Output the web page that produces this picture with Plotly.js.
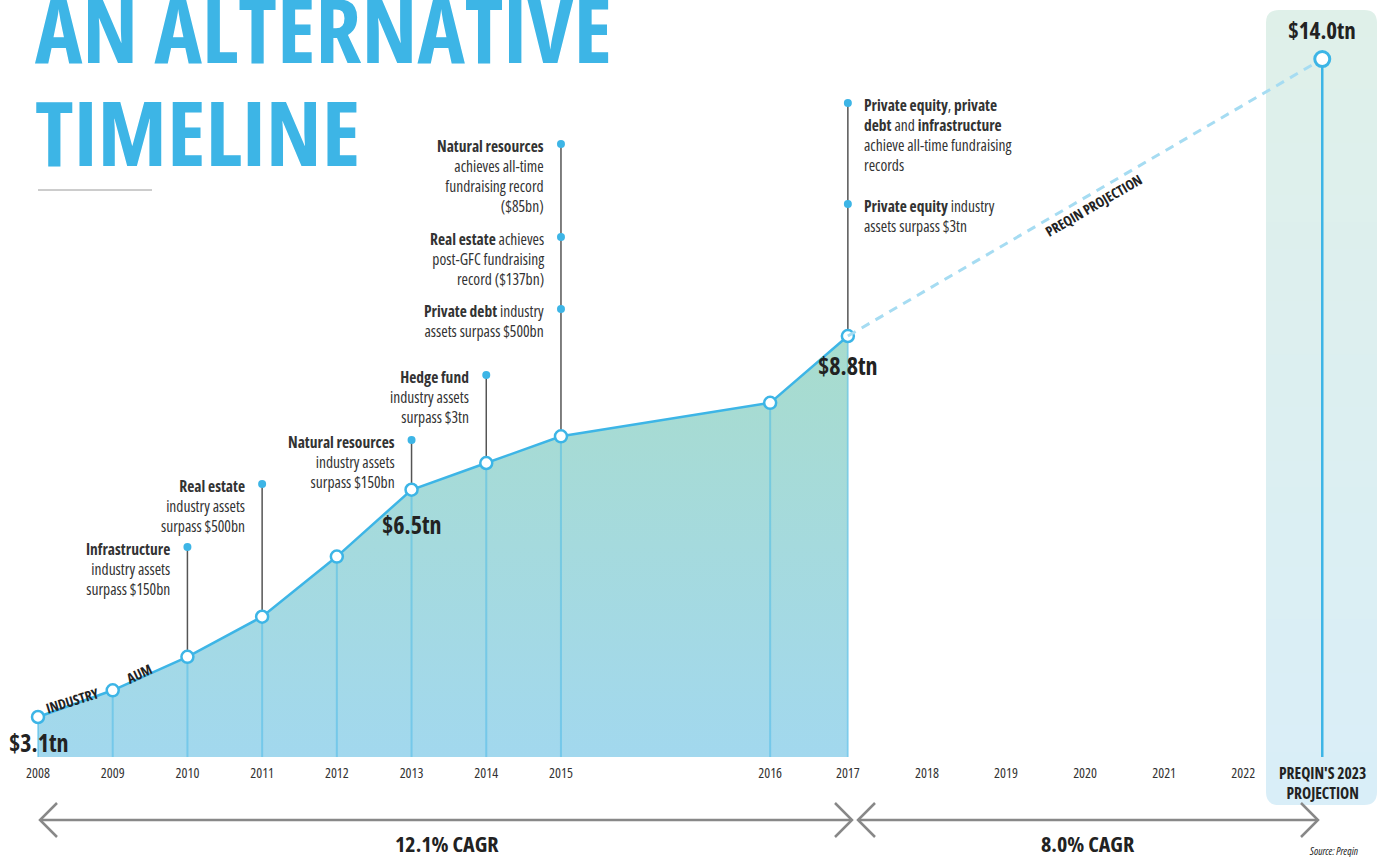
<!DOCTYPE html>
<html><head><meta charset="utf-8">
<script src="https://cdn.plot.ly/plotly-3.0.1.min.js"></script>
<style>html,body{margin:0;padding:0;background:#fff}
text{font-stretch:75%;}</style>
</head><body>
<div id="chart" style="width:1381px;height:857px"></div>
<script>
// ---------------- DATA ----------------
const years = [2008, 2009, 2010, 2011, 2012, 2013, 2014, 2015, 2016, 2017];
const aum   = [3.1, 3.5, 4.0, 4.6, 5.5, 6.5, 6.9, 7.3, 7.8, 8.8];   // industry AUM, $tn
const projYears = [2017, 2023];
const projAum   = [8.8, 14.0];                                       // Preqin projection, $tn
const axisYears = [2008, 2009, 2010, 2011, 2012, 2013, 2014, 2015, 2016, 2017, 2018, 2019, 2020, 2021, 2022];
const labelledYears = [2008, 2013, 2017];
const cagrTexts = ['12.1% CAGR', '8.0% CAGR'];
const milestoneYears = [2010, 2011, 2013, 2014, 2015, 2015, 2015, 2017, 2017];
const milestoneTexts = [
  '<b>Infrastructure</b><br>industry assets<br>surpass $150bn',
  '<b>Real estate</b><br>industry assets<br>surpass $500bn',
  '<b>Natural resources</b><br>industry assets<br>surpass $150bn',
  '<b>Hedge fund</b><br>industry assets<br>surpass $3tn',
  '<b>Natural resources</b><br>achieves all-time<br>fundraising record<br>($85bn)',
  '<b>Real estate</b> achieves<br>post-GFC fundraising<br>record ($137bn)',
  '<b>Private debt</b> industry<br>assets surpass $500bn',
  '<b>Private equity</b>, <b>private</b><br><b>debt</b> and <b>infrastructure</b><br>achieve all-time fundraising<br>records',
  '<b>Private equity</b> industry<br>assets surpass $3tn'
];

// ---------------- LAYOUT HELPERS ----------------
const W = 1381, H = 857, PLOT_H = 757;
const BLUE = '#3db5e6';
const FONT = "'Open Sans',sans-serif";
const TL_YEARS = [2008, 2015, 2016, 2017, 2023];
const TL_POS   = [0, 7, 9.8, 10.84, 17.19];
function tl(y){ for(let i=0;i<TL_YEARS.length-1;i++){ if(y<=TL_YEARS[i+1]){const f=(y-TL_YEARS[i])/(TL_YEARS[i+1]-TL_YEARS[i]);return TL_POS[i]+f*(TL_POS[i+1]-TL_POS[i]);} } return TL_POS[TL_POS.length-1]; }
const SLOT_PX = 74.71, X0_PX = 38;
const xRange = [-X0_PX/SLOT_PX, (W-X0_PX)/SLOT_PX];
const yRange = [2.5016, 13.827];
const y2Range = [0.897, 15.108];
const px = x => x / W;
const py = y => 1 - y / PLOT_H;
const yData = y => yRange[0] + (1 - y/PLOT_H) * (yRange[1]-yRange[0]);

// milestone layout: pixel row of first line
const msTopPx = [547, 484, 440, 375, 144, 237, 309, 103, 204];
const msStemTopPx = {2010:547, 2011:484, 2013:440, 2014:375, 2015:144, 2017:103};

// ---------------- TRACES ----------------
const xs = years.map(tl);
const traces = [];
traces.push({x: xs, y: aum, type:'scatter', mode:'lines', line:{width:0, color:BLUE}, fill:'tozeroy',
  fillgradient:{type:'vertical', start:yRange[0], stop:8.8, colorscale:[[0,'#a2d8ee'],[1,'#a8dccd']]}, hoverinfo:'skip', showlegend:false});
const dx=[], dy=[];
years.forEach((yr,i)=>{dx.push(tl(yr),tl(yr),null); dy.push(aum[i], yRange[0], null);});
traces.push({x:dx, y:dy, mode:'lines', line:{color:'rgba(61,181,230,0.45)', width:2}, hoverinfo:'skip', showlegend:false});
traces.push({x: projYears.map(tl), y: projAum, yaxis:'y2', mode:'lines', line:{color:'#a6dcf2', width:3, dash:'9px,7px'}, hoverinfo:'skip', showlegend:false});
traces.push({x: [tl(2023), tl(2023)], y: [projAum[1], y2Range[0]], yaxis:'y2', mode:'lines', line:{color:BLUE, width:2.5}, hoverinfo:'skip', showlegend:false});
traces.push({x: [tl(2023)], y: [projAum[1]], yaxis:'y2', mode:'markers', marker:{size:15, color:'#fff', line:{color:BLUE, width:3}}, hoverinfo:'skip', showlegend:false});
traces.push({x: xs, y: aum, mode:'lines+markers', line:{color:BLUE, width:2.5}, marker:{size:12, color:'#fff', line:{color:BLUE, width:2.5}}, hoverinfo:'skip', showlegend:false});

// ---------------- SHAPES ----------------
const shapes = [];
(function(){
  const x0=1266, x1=1377, y0=10, y1=805, r=13, N=30;
  const c0=[223,240,233], c1=[217,238,248];
  for(let k=0;k<N;k++){
    const a=y0+(y1-y0)*k/N, b=Math.min(y1, y0+(y1-y0)*(k+1)/N+1);
    const t=(k+0.5)/N; const c=c0.map((v,i)=>Math.round(v+(c1[i]-v)*t));
    let p;
    if(k===0){ p=`M${px(x0)},${py(b)} L${px(x0)},${py(a+r)} Q${px(x0)},${py(a)} ${px(x0+r)},${py(a)} L${px(x1-r)},${py(a)} Q${px(x1)},${py(a)} ${px(x1)},${py(a+r)} L${px(x1)},${py(b)} Z`; }
    else if(k===N-1){ p=`M${px(x0)},${py(a)} L${px(x0)},${py(y1-r)} Q${px(x0)},${py(y1)} ${px(x0+r)},${py(y1)} L${px(x1-r)},${py(y1)} Q${px(x1)},${py(y1)} ${px(x1)},${py(y1-r)} L${px(x1)},${py(a)} Z`; }
    else { p=`M${px(x0)},${py(a)} L${px(x1)},${py(a)} L${px(x1)},${py(b)} L${px(x0)},${py(b)} Z`; }
    shapes.push({type:'path', xref:'paper', yref:'paper', path:p, fillcolor:`rgb(${c})`, line:{width:0}, layer:'below'});
  }
})();
Object.keys(msStemTopPx).forEach(k=>{
  const yr=+k, i=years.indexOf(yr);
  shapes.push({type:'line', xref:'x', yref:'y', x0:tl(yr), x1:tl(yr), y0:aum[i], y1:yData(msStemTopPx[k]), line:{color:'#555', width:1.5}, layer:'below'});
});
milestoneYears.forEach((yr,i)=>{
  shapes.push({type:'circle', xref:'x', yref:'paper', xsizemode:'pixel', ysizemode:'pixel', xanchor:tl(yr), yanchor:py(msTopPx[i]), x0:-4, x1:4, y0:-4, y1:4, fillcolor:BLUE, line:{width:0}});
});
shapes.push({type:'line', xref:'paper', yref:'paper', x0:px(38), x1:px(152), y0:py(190), y1:py(190), line:{color:'#9a9a9a', width:1}});
const AY=820, AH=17;
function arrow(xa, xb){
  shapes.push({type:'line', xref:'paper', yref:'paper', x0:px(xa), x1:px(xb), y0:py(AY), y1:py(AY), line:{color:'#888', width:2.5}});
  shapes.push({type:'path', xref:'paper', yref:'paper', path:`M${px(xa+AH)},${py(AY-AH)} L${px(xa)},${py(AY)} L${px(xa+AH)},${py(AY+AH)}`, line:{color:'#888', width:2.5}});
  shapes.push({type:'path', xref:'paper', yref:'paper', path:`M${px(xb-AH)},${py(AY-AH)} L${px(xb)},${py(AY)} L${px(xb-AH)},${py(AY+AH)}`, line:{color:'#888', width:2.5}});
}
arrow(40, 852); arrow(858, 1318);

// ---------------- ANNOTATIONS ----------------
const ann = [];
const BODY = 15.5;
function A(o){ ann.push(Object.assign({showarrow:false, xanchor:'center', yanchor:'middle'}, o)); }
A({xref:'paper', yref:'paper', x:px(33), y:py(28), xanchor:'left', text:'<b>AN ALTERNATIVE</b>', font:{family:FONT, size:90, color:BLUE}});
A({xref:'paper', yref:'paper', x:px(33), y:py(131), xanchor:'left', text:'<b>TIMELINE</b>', font:{family:FONT, size:90, color:BLUE}});
milestoneYears.forEach((yr,i)=>{
  const left = yr===2017;
  A({xref:'x', yref:'paper', x:tl(yr), xshift: left? 14 : -15, y:py(msTopPx[i]-11), xanchor: left?'left':'right', yanchor:'top', align: left?'left':'right', text:milestoneTexts[i], font:{family:FONT, size:BODY, color:'#333', weight:400}});
});
const valPos = {2008:[7,742,'left'], 2013:[null,524,'center'], 2017:[null,365,'center']};
labelledYears.forEach(yr=>{
  const v=aum[years.indexOf(yr)]; const p=valPos[yr];
  A({xref:'paper', yref:'paper', x: p[0]!==null? px(p[0]) : px(X0_PX+SLOT_PX*tl(yr)), y:py(p[1]), xanchor:p[2], text:`<b>$${v.toFixed(1)}tn</b>`, font:{family:FONT, size:24, color:'#222'}});
});
A({xref:'x', yref:'paper', x:tl(2023), y:py(30), text:`<b>$${projAum[1].toFixed(1)}tn</b>`, font:{family:FONT, size:23, color:'#222'}});
A({xref:'paper', yref:'paper', x:px(72), y:py(700), text:'<b>INDUSTRY</b>', textangle:-17, font:{family:FONT, size:14, color:'#222'}});
A({xref:'paper', yref:'paper', x:px(139), y:py(673), text:'<b>AUM</b>', textangle:-25, font:{family:FONT, size:14, color:'#222'}});
A({xref:'paper', yref:'paper', x:px(1093), y:py(205), text:'<b>PREQIN PROJECTION</b>', textangle:-30, font:{family:FONT, size:14, color:'#222'}});
A({xref:'x', yref:'paper', x:tl(2023), y:py(783), text:"<b>PREQIN'S 2023<br>PROJECTION</b>", font:{family:FONT, size:15.5, color:'#222'}});
A({xref:'paper', yref:'paper', x:px(447), y:py(843), text:`<b>${cagrTexts[0]}</b>`, font:{family:FONT, size:22, color:'#222'}});
A({xref:'paper', yref:'paper', x:px(1088), y:py(843), text:`<b>${cagrTexts[1]}</b>`, font:{family:FONT, size:22, color:'#222'}});
A({xref:'paper', yref:'paper', x:px(1333), y:py(851), text:'<i>Source: Preqin</i>', font:{family:FONT, size:10.5, color:'#222'}});

const layout = {
  width:W, height:H, margin:{l:0,r:0,t:0,b:H-PLOT_H}, paper_bgcolor:'#fff', plot_bgcolor:'rgba(0,0,0,0)',
  showlegend:false,
  xaxis:{range:xRange, showgrid:false, zeroline:false, showline:false, ticks:'', ticklabelstandoff:6, tickvals:axisYears.map(tl), ticktext:axisYears.map(String), tickfont:{family:FONT, size:14, color:'#333', weight:400}, fixedrange:true},
  yaxis:{range:yRange, visible:false, fixedrange:true},
  yaxis2:{range:y2Range, overlaying:'y', visible:false, fixedrange:true},
  shapes:shapes, annotations:ann
};
Plotly.newPlot('chart', traces, layout, {staticPlot:true});
</script>
</body></html>
